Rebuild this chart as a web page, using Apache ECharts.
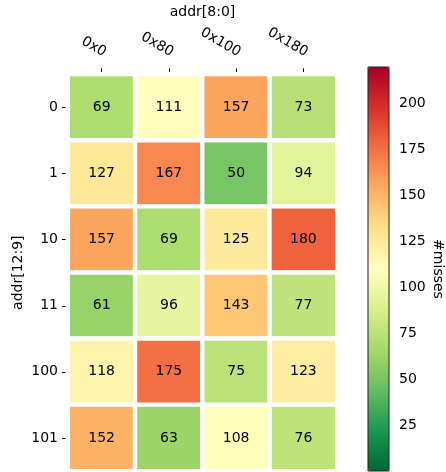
<!DOCTYPE html>
<html>
<head>
<meta charset="utf-8">
<script src="https://cdn.jsdelivr.net/npm/echarts@6/dist/echarts.min.js"></script>
<style>
  html, body { margin: 0; padding: 0; background: #fff; }
  #chart { width: 446px; height: 472px; }
</style>
</head>
<body>
<div id="chart"></div>
<script>
// Column labels: address bits [8:0]
const colLabels = ['0x0', '0x80', '0x100', '0x180'];
// Row labels: address bits [12:9]
const rowLabels = ['0', '1', '10', '11', '100', '101'];
// Miss counts, one array per row
const row0 = [69, 111, 157, 73];
const row1 = [127, 167, 50, 94];
const row2 = [157, 69, 125, 180];
const row3 = [61, 96, 143, 77];
const row4 = [118, 175, 75, 123];
const row5 = [152, 63, 108, 76];
const rows = [row0, row1, row2, row3, row4, row5];
// Colour scale limits and colorbar ticks
const scaleMin = 0;
const scaleMax = 220;
const barTicks = [25, 50, 75, 100, 125, 150, 175, 200];
// RdYlGn reversed: low = green, high = red
const rdYlGnR = ['#006837', '#1a9850', '#66bd63', '#a6d96a', '#d9ef8b', '#ffffbf',
                 '#fee08b', '#fdae61', '#f46d43', '#d73027', '#a50026'];

const cells = [];
rows.forEach((vals, r) => vals.forEach((v, c) => cells.push([c, r, v])));

const FONT = 'DejaVu Sans';
const FS = 14;
const chart = echarts.init(document.getElementById('chart'));
chart.setOption({
  animation: false,
  backgroundColor: '#fff',
  textStyle: { fontFamily: FONT },
  grid: [
    { left: 68, top: 67, width: 269, height: 404 },
    { left: 368, top: 67, width: 21, height: 404, show: true,
      borderColor: '#222', borderWidth: 1, backgroundColor: 'transparent', z: 10 }
  ],
  xAxis: [
    {
      type: 'category', data: colLabels, position: 'top', gridIndex: 0,
      name: 'addr[8:0]', nameLocation: 'middle', nameGap: 55,
      nameTextStyle: { fontSize: FS, color: '#000', fontFamily: FONT },
      axisLine: { show: false },
      axisTick: { show: true, alignWithLabel: true, length: 6, lineStyle: { color: '#000' } },
      axisLabel: { rotate: 30, fontSize: FS, color: '#000', fontFamily: FONT,
                   align: 'right', verticalAlign: 'middle', margin: 23, interval: 0,
                   padding: [0, -4, 0, 0] },
      splitLine: { show: false }
    },
    { type: 'value', gridIndex: 1, show: false, min: 0, max: 1 }
  ],
  yAxis: [
    {
      type: 'category', data: rowLabels, inverse: true, gridIndex: 0,
      name: 'addr[12:9]', nameLocation: 'middle', nameGap: 43, nameRotate: 90,
      nameMoveOverlap: false,
      nameTextStyle: { fontSize: FS, color: '#000', fontFamily: FONT },
      axisLine: { show: false },
      axisTick: { show: true, alignWithLabel: true, length: 6, lineStyle: { color: '#000' } },
      axisLabel: { fontSize: FS, color: '#000', fontFamily: FONT, margin: 10, interval: 0 },
      splitLine: { show: false }
    },
    {
      type: 'value', gridIndex: 1, position: 'right', min: scaleMin, max: scaleMax,
      name: '#misses', nameLocation: 'middle', nameGap: 42, nameRotate: -90,
      nameTextStyle: { fontSize: FS, color: '#000', fontFamily: FONT },
      axisLine: { show: false },
      axisTick: { show: true, length: 4, lineStyle: { color: '#000' }, customValues: barTicks },
      axisLabel: { fontSize: FS, color: '#000', fontFamily: FONT, margin: 10, customValues: barTicks },
      splitLine: { show: false }
    }
  ],
  visualMap: {
    type: 'continuous', min: scaleMin, max: scaleMax, seriesIndex: 0,
    orient: 'vertical', left: 368, top: 67, itemWidth: 21, itemHeight: 404,
    padding: 0, calculable: false, showLabel: false, text: null,
    inRange: { color: rdYlGnR }
  },
  series: [{
    type: 'heatmap', xAxisIndex: 0, yAxisIndex: 0, data: cells,
    label: { show: true, color: '#000', fontSize: FS, fontFamily: FONT },
    itemStyle: { borderColor: '#fff', borderWidth: 4.4 },
    emphasis: { disabled: true }
  }]
});
</script>
</body>
</html>
